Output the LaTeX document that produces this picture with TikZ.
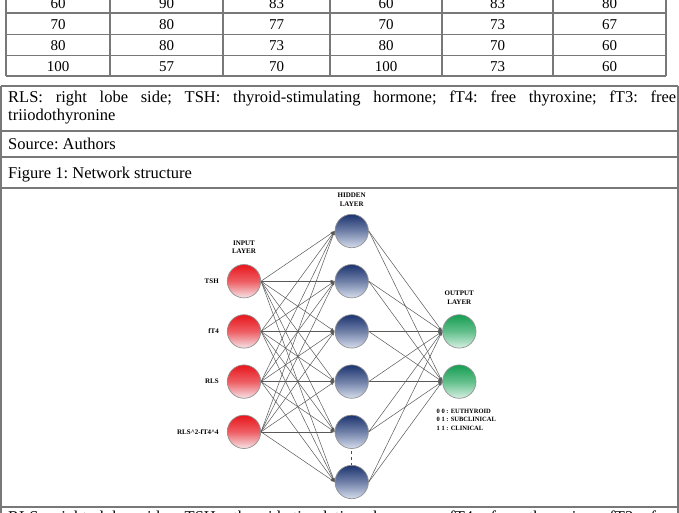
\documentclass[tikz,border=0pt]{standalone}
\usepackage{fontspec}
\setmainfont{Liberation Serif}
\usetikzlibrary{positioning,arrows.meta}
\definecolor{inred}{RGB}{232,22,28}
\definecolor{inpale}{RGB}{246,228,232}
\definecolor{hidblue}{RGB}{28,52,112}
\definecolor{hidpale}{RGB}{214,221,236}
\definecolor{outgreen}{RGB}{22,158,82}
\definecolor{outpale}{RGB}{214,240,226}
\definecolor{rulegray}{RGB}{120,120,120}
\begin{document}
\begin{tikzpicture}[x=1pt, y=-1pt, node distance=50.2pt]
    % Styles
    \tikzstyle{frameline} = [draw=rulegray, line width=1.2pt]
    \tikzstyle{numcell} = [inner sep=0pt, anchor=base, font=\fontsize{15}{18}\selectfont]
    \tikzstyle{captext} = [inner sep=0pt, anchor=base west, text width=668pt, align=justify,
        font=\fontsize{16.5}{18.4}\selectfont\frenchspacing]
    \tikzstyle{neuron} = [circle, draw=gray!85, line width=0.7pt, minimum size=33.4pt, inner sep=0pt]
    \tikzstyle{inneuron} = [neuron, top color=inred, bottom color=inpale, middle color=inred!65!inpale]
    \tikzstyle{hidneuron} = [neuron, top color=hidblue, bottom color=hidpale, middle color=hidblue!55!hidpale]
    \tikzstyle{outneuron} = [neuron, top color=outgreen, bottom color=outpale, middle color=outgreen!60!outpale]
    \tikzstyle{lbl} = [inner sep=0pt, align=center, font=\fontsize{7}{8.5}\selectfont\bfseries]
    \tikzstyle{link} = [draw=black!65, line width=0.5pt, -{Latex[length=4pt,width=3pt]}]

    \useasboundingbox (0,0) rectangle (679,512);
    \clip (0,0) rectangle (679,512);
    \fill [white] (0,0) rectangle (679,512);

    % === TABLE (cut off at the top) ===
    \foreach \x in {6,110,223,330,442,553,666}
        \draw [frameline] (\x,-10) -- (\x,76);
    \foreach \y in {13,34.5,55.5,76}
        \draw [frameline] (6,\y) -- (666,\y);
    \foreach \r/\base/\a/\b/\c/\d/\e/\f in {1/8/60/90/83/60/83/80, 2/29.5/70/80/77/70/73/67,
        3/50.5/80/80/73/80/70/60, 4/71/100/57/70/100/73/60} {
        \node [numcell] (r\r-1) at (58,\base) {\a};
        \node [numcell] (r\r-2) at (166.5,\base) {\b};
        \node [numcell] (r\r-3) at (276.5,\base) {\c};
        \node [numcell] (r\r-4) at (386,\base) {\d};
        \node [numcell] (r\r-5) at (497.5,\base) {\e};
        \node [numcell] (r\r-6) at (609.5,\base) {\f};
    }

    % === FRAME ROWS ===
    \foreach \y in {86,131,157,188,507}
        \draw [frameline] (1,\y) -- (678,\y);
    \draw [frameline] (1,86) -- (1,520);
    \draw [frameline] (678,86) -- (678,520);

    \node [captext] (abbrev) at (8,102) {RLS: right lobe side; TSH: thyroid-stimulating hormone; fT4: free thyroxine; fT3: free\linebreak triiodothyronine};
    \node [captext] (source) at (8,149) {Source: Authors};
    \node [captext] (figcap) at (8,178.5) {Figure 1: Network structure};
    \node [captext] (abbrevnext) at (8,522.5) {RLS: right lobe side; TSH: thyroid-stimulating hormone; fT4: free thyroxine; fT3: free\linebreak\mbox{}};

    % === HIDDEN LAYER ===
    \node [hidneuron] (h1) at (351.7,231) {};
    \node [hidneuron, below of=h1] (h2) {};
    \node [hidneuron, below of=h2] (h3) {};
    \node [hidneuron, below of=h3] (h4) {};
    \node [hidneuron, below of=h4] (h5) {};
    \node [hidneuron, below of=h5] (h6) {};

    % === INPUT LAYER ===
    \node [inneuron, left of=h2, node distance=107.7pt] (i1) {};
    \node [inneuron, below of=i1] (i2) {};
    \node [inneuron, below of=i2] (i3) {};
    \node [inneuron, below of=i3] (i4) {};

    % === OUTPUT LAYER ===
    \node [outneuron, right of=h3, node distance=107.6pt] (o1) {};
    \node [outneuron, below of=o1] (o2) {};

    % === ARROWS ===
    \foreach \i in {1,...,4}
        \foreach \h in {1,...,6}
            \draw [link] (i\i.east) -- (h\h.west);
    \foreach \h in {1,...,6}
        \foreach \o in {1,2}
            \draw [link] (h\h.east) -- (o\o.west);
    \draw [draw=black!70, line width=0.8pt, dashed] ([yshift=-2pt]h5.south) -- (h6.north);

    % === Labels ===
    \node [lbl, left=8pt of i1] (tsh) {TSH};
    \node [lbl, left=8pt of i2] (ft4) {fT4};
    \node [lbl, left=8pt of i3] (rls) {RLS};
    \node [lbl, left=8pt of i4] (rlsft4) {RLS\textasciicircum 2-fT4\textasciicircum 4};
    \node [lbl, above of=i1, yshift=-16pt] (inhead) {INPUT\\LAYER};
    \node [lbl, above of=h1, yshift=-19pt] (hidhead) {HIDDEN\\LAYER};
    \node [lbl, above of=o1, yshift=-16.5pt] (outhead) {OUTPUT\\LAYER};
    \node [lbl, align=left, font=\fontsize{6.5}{8.7}\selectfont\bfseries,
        below=10pt of o2, xshift=7pt] (codes) {0 0 : EUTHYROID\\0 1 : SUBCLINICAL\\1 1 : CLINICAL};
\end{tikzpicture}
\end{document}
